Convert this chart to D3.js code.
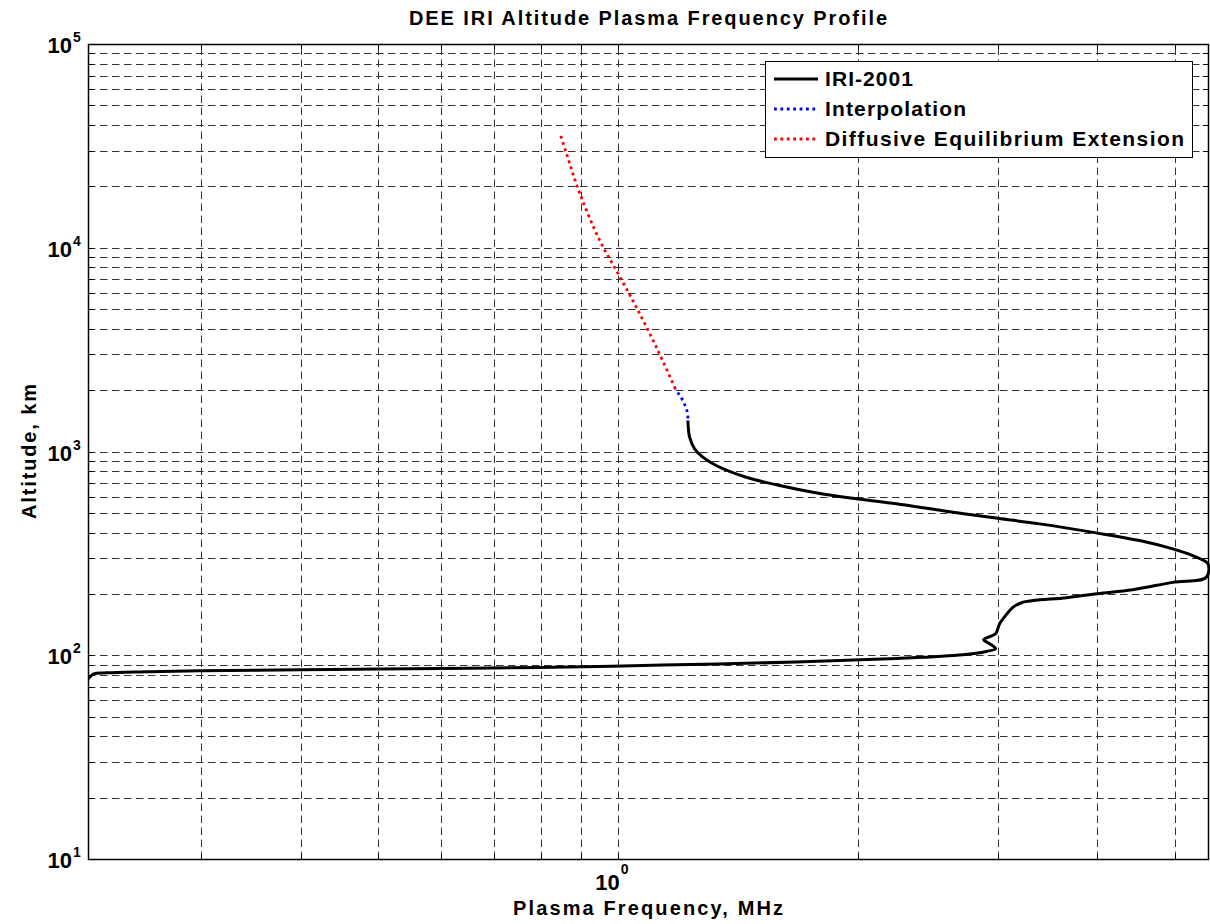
<!DOCTYPE html>
<html>
<head>
<meta charset="utf-8">
<script src="https://cdn.jsdelivr.net/npm/d3@7"></script>
<style>
  html, body { margin: 0; padding: 0; background: #fff; }
  svg { display: block; }
  text { font-family: "Liberation Sans", Arial, Helvetica, sans-serif; font-weight: bold; fill: #000; }
</style>
</head>
<body>
<svg id="chart" width="1210" height="924"></svg>
<script>
// ---------------- data ----------------
const iriFreq = [0.2163, 0.2171, 0.2196, 0.2283, 0.2563, 0.2988, 0.3990, 0.5027, 0.7983, 1.139, 1.676, 2.237, 2.713, 2.902, 2.981, 2.930, 2.880, 2.930, 2.981, 3.016, 3.068, 3.131, 3.213, 3.660, 4.003, 4.429, 4.975, 5.479, 5.508, 5.270, 4.975, 4.519, 3.987, 3.385, 3.000, 2.585, 2.237, 1.993, 1.758, 1.597, 1.450, 1.329, 1.279, 1.249, 1.231, 1.225];
const iriAlt  = [76.6, 77.6, 80.9, 82.0, 83.0, 83.9, 84.8, 85.5, 87.1, 89.5, 92.6, 96.4, 100.6, 104.4, 107.6, 113.9, 119.2, 123.3, 127.5, 142.8, 156.4, 171.2, 181.1, 191.7, 200.6, 209.8, 227.9, 241.2, 280.7, 308.3, 332.6, 365.4, 398.6, 441.3, 470.0, 508.8, 553.4, 585.7, 631.0, 680.7, 747.5, 853.7, 937.6, 1031, 1176, 1420];
const interpFreq = [1.225, 1.223, 1.217, 1.210, 1.196, 1.181];
const interpAlt  = [1453, 1560, 1651, 1747, 1885, 2033];
const diffFreq = [1.181, 1.118, 1.055, 1.001, 0.949, 0.896, 0.862, 0.846];
const diffAlt  = [2033, 3254, 5118, 7468, 10890, 18520, 29130, 36650];

const xDomain = [0.2163, 5.508];
const yDomain = [10, 100000];
const xGridValues = [0.3, 0.4, 0.5, 0.6, 0.7, 0.8, 0.9, 1, 2, 3, 4, 5];
const yGridValues = [];
for (let e = 1; e <= 4; e++) for (let m = 1; m <= 9; m++) yGridValues.push(m * Math.pow(10, e));
yGridValues.push(100000);
const xTickExps = [0];
const yTickExps = [1, 2, 3, 4, 5];

const titleText = "DEE IRI Altitude Plasma Frequency Profile";
const xLabelText = "Plasma Frequency, MHz";
const yLabelText = "Altitude, km";
const legendNames = ["IRI-2001", "Interpolation", "Diffusive Equilibrium Extension"];
const legendColors = ["#000000", "#0000ff", "#ff0000"];
const legendDashed = [false, true, true];
const legendWidths = [88, 141, 359];

// ---------------- layout ----------------
const L = 88, T = 44, R = 1208, B = 859;
const svg = d3.select("#chart");
const x = d3.scaleLog().domain(xDomain).range([L, R]);
const y = d3.scaleLog().domain(yDomain).range([B, T]);

// grid
const grid = svg.append("g").attr("stroke", "#333").attr("stroke-width", 1).attr("stroke-dasharray", "7.5,4.5").attr("fill", "none");
grid.selectAll("line.h").data(yGridValues).join("line")
  .attr("x1", L).attr("x2", R)
  .attr("y1", d => Math.round(y(d)) + 0.5).attr("y2", d => Math.round(y(d)) + 0.5);
grid.selectAll("line.v").data(xGridValues).join("line")
  .attr("y1", B).attr("y2", T)
  .attr("x1", d => Math.round(x(d)) + 0.5).attr("x2", d => Math.round(x(d)) + 0.5);

// small inside ticks
const ticks = svg.append("g").attr("stroke", "#000").attr("stroke-width", 1);
ticks.selectAll("line.tb").data(xGridValues).join("line")
  .attr("x1", d => Math.round(x(d)) + 0.5).attr("x2", d => Math.round(x(d)) + 0.5)
  .attr("y1", B).attr("y2", B - 5);
ticks.selectAll("line.tt").data(xGridValues).join("line")
  .attr("x1", d => Math.round(x(d)) + 0.5).attr("x2", d => Math.round(x(d)) + 0.5)
  .attr("y1", T).attr("y2", T + 5);
ticks.selectAll("line.tl").data(yGridValues).join("line")
  .attr("y1", d => Math.round(y(d)) + 0.5).attr("y2", d => Math.round(y(d)) + 0.5)
  .attr("x1", L).attr("x2", L + 5);
ticks.selectAll("line.tr").data(yGridValues).join("line")
  .attr("y1", d => Math.round(y(d)) + 0.5).attr("y2", d => Math.round(y(d)) + 0.5)
  .attr("x1", R).attr("x2", R - 5);

// axes box
svg.append("rect").attr("x", L + 0.5).attr("y", T + 0.5).attr("width", R - L).attr("height", B - T)
  .attr("fill", "none").attr("stroke", "#000").attr("stroke-width", 1.5);

// lines
const line = d3.line().x(d => x(d[0])).y(d => y(d[1])).curve(d3.curveCatmullRom.alpha(0.5));
svg.append("clipPath").attr("id", "clip").append("rect").attr("x", L).attr("y", T).attr("width", R - L + 2).attr("height", B - T);
const plot = svg.append("g").attr("clip-path", "url(#clip)");
plot.append("path").datum(iriFreq.map((f, i) => [f, iriAlt[i]]))
  .attr("d", line).attr("fill", "none").attr("stroke", "#000").attr("stroke-width", 3).attr("stroke-linejoin", "round");
plot.append("path").datum(interpFreq.map((f, i) => [f, interpAlt[i]]))
  .attr("d", line).attr("fill", "none").attr("stroke", "#0000ff").attr("stroke-width", 2.8).attr("stroke-dasharray", "2.8,3.6");
plot.append("path").datum(diffFreq.map((f, i) => [f, diffAlt[i]]))
  .attr("d", line).attr("fill", "none").attr("stroke", "#ff0000").attr("stroke-width", 2.8).attr("stroke-dasharray", "2.8,3.6");

// tick labels
const yl = svg.append("g");
yTickExps.forEach(e => {
  const ty = y(Math.pow(10, e));
  yl.append("text").attr("x", 72).attr("y", ty + 9).attr("text-anchor", "end").attr("font-size", 22).text("10");
  yl.append("text").attr("x", 73).attr("y", ty - 2).attr("font-size", 14).text(String(e));
});
xTickExps.forEach(e => {
  const cx = x(Math.pow(10, e));
  svg.append("text").attr("x", cx + 2).attr("y", 890).attr("text-anchor", "end").attr("font-size", 22).text("10");
  svg.append("text").attr("x", cx + 3).attr("y", 874).attr("font-size", 14).text(String(e));
});

// titles
svg.append("text").attr("x", 648).attr("y", 25).attr("text-anchor", "middle").attr("font-size", 20)
  .attr("textLength", 478).attr("lengthAdjust", "spacing").text(titleText);
svg.append("text").attr("x", 648).attr("y", 915).attr("text-anchor", "middle").attr("font-size", 20)
  .attr("textLength", 270).attr("lengthAdjust", "spacing").text(xLabelText);
svg.append("text").attr("transform", `translate(36,${451.5}) rotate(-90)`).attr("text-anchor", "middle").attr("font-size", 20)
  .attr("textLength", 135).attr("lengthAdjust", "spacing").text(yLabelText);

// legend
const lg = svg.append("g");
lg.append("rect").attr("x", 765.5).attr("y", 61.5).attr("width", 427).attr("height", 96)
  .attr("fill", "#fff").attr("stroke", "#000").attr("stroke-width", 1);
legendNames.forEach((n, i) => {
  const yy = 79 + i * 30;
  lg.append("line").attr("x1", 774).attr("x2", 818).attr("y1", yy).attr("y2", yy)
    .attr("stroke", legendColors[i]).attr("stroke-width", legendDashed[i] ? 2.8 : 3)
    .attr("stroke-dasharray", legendDashed[i] ? "2.8,3.6" : null);
  lg.append("text").attr("x", 825).attr("y", yy + 7).attr("font-size", 21)
    .attr("textLength", legendWidths[i]).attr("lengthAdjust", "spacing").text(n);
});
</script>
</body>
</html>
